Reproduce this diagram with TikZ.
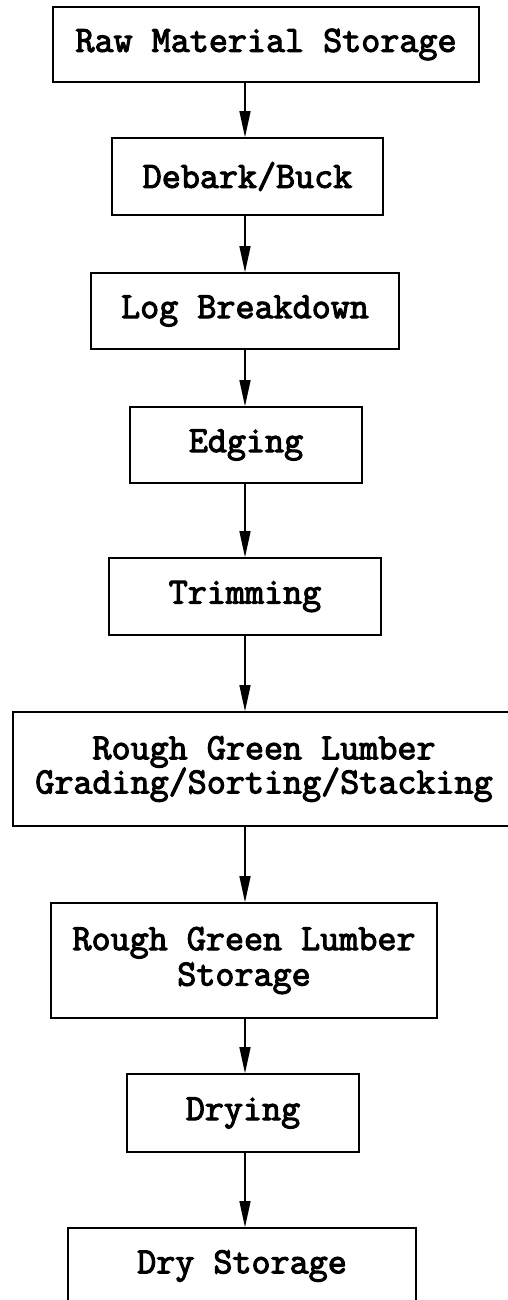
\documentclass[tikz,border=0pt]{standalone}
\usepackage{fontspec}
\newfontfamily\boxfont[AutoFakeBold=3]{Latin Modern Mono}
\usetikzlibrary{arrows.meta}

\begin{document}
\begin{tikzpicture}[x=1pt,y=-1pt,thick,>={Triangle[length=26pt,width=11pt]},
  step box/.style={draw,line width=1.6pt,align=center,inner sep=0pt,
    font=\boxfont\bfseries\fontsize{37}{28}\selectfont},
  flow/.style={->,line width=1.3pt}]
			\useasboundingbox (0,0) rectangle (508,1300);
			\coordinate (spine) at (245,0);
			\node[step box,minimum width=426pt,minimum height=75pt] (raw) at (266,44.5) {Raw Material Storage};
			\node[step box,minimum width=271pt,minimum height=77pt] (debark) at (247.5,176.5) {Debark/Buck};
			\node[step box,minimum width=308pt,minimum height=76pt] (log) at (245,311) {Log Breakdown};
			\node[step box,minimum width=232pt,minimum height=76pt] (edging) at (246,445) {Edging};
			\node[step box,minimum width=272pt,minimum height=77pt] (trim) at (245,596.5) {Trimming};
			\node[step box,minimum width=502pt,minimum height=114pt] (grading) at (264,769) {Rough Green Lumber\\[-1pt]Grading/Sorting/Stacking};
			\node[step box,minimum width=386pt,minimum height=115pt] (green) at (244,960.5) {Rough Green Lumber\\[3pt]Storage};
			\node[step box,minimum width=232pt,minimum height=78pt] (drying) at (243,1113) {Drying};
			\node[step box,minimum width=348pt,minimum height=76pt] (dry) at (242,1266) {Dry Storage};
			\path[flow]
			(raw.south -| spine) edge (debark.north -| spine)
			(debark.south -| spine) edge (log.north -| spine)
			(log.south -| spine) edge (edging.north -| spine)
			(edging.south -| spine) edge (trim.north -| spine)
			(trim.south -| spine) edge (grading.north -| spine)
			(grading.south -| spine) edge (green.north -| spine)
			(green.south -| spine) edge (drying.north -| spine)
			(drying.south -| spine) edge (dry.north -| spine);
		\end{tikzpicture}
\end{document}
